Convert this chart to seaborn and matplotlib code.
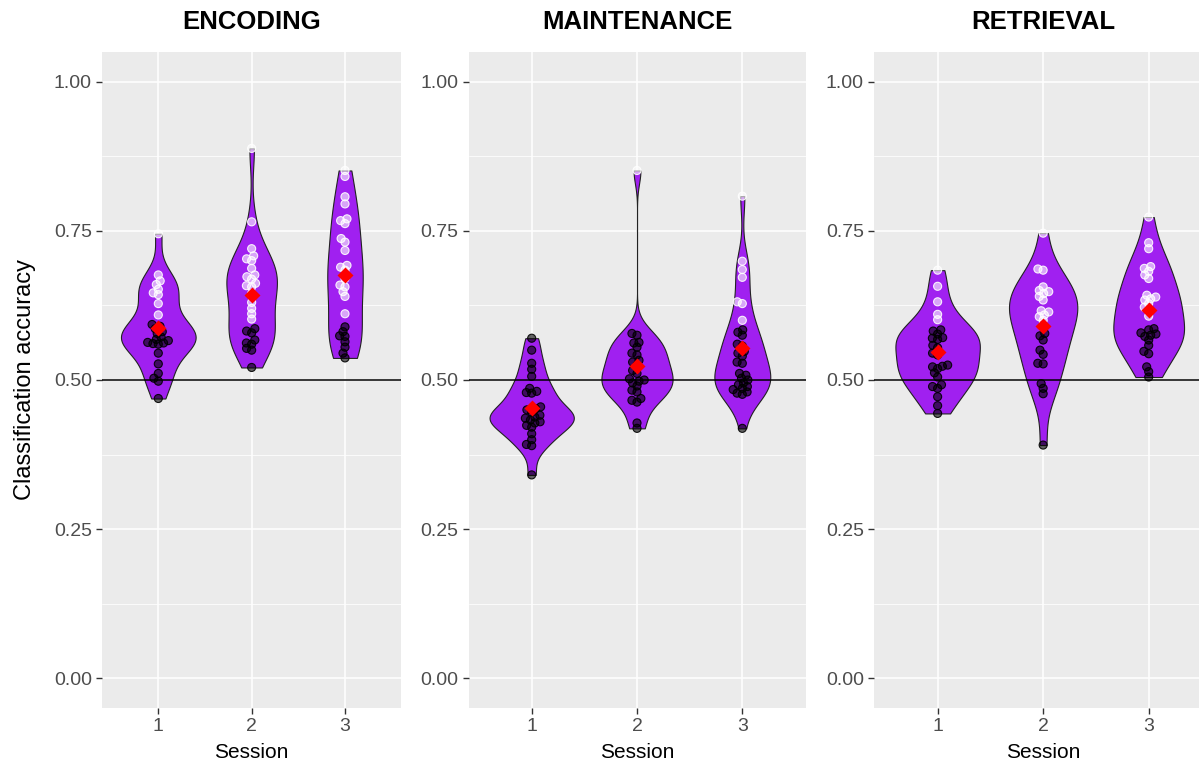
import numpy as np
import pandas as pd
import matplotlib
matplotlib.use("Agg")
import matplotlib.pyplot as plt
import seaborn as sns
from matplotlib.ticker import MultipleLocator, FixedLocator, FuncFormatter

# ---------------- data ----------------
phases = ["ENCODING", "MAINTENANCE", "RETRIEVAL"]
sessions = ["1", "2", "3"]

enc_s1 = [0.745, 0.676, 0.666, 0.660, 0.652, 0.646, 0.643, 0.628, 0.609, 0.593, 0.590,
          0.586, 0.581, 0.578, 0.572, 0.568, 0.566, 0.563, 0.562, 0.561, 0.560, 0.545,
          0.527, 0.511, 0.503, 0.498, 0.469]
enc_s2 = [0.888, 0.765, 0.720, 0.708, 0.703, 0.700, 0.687, 0.676, 0.673, 0.669, 0.662,
          0.658, 0.656, 0.645, 0.630, 0.620, 0.611, 0.602, 0.586, 0.582, 0.579, 0.567,
          0.562, 0.560, 0.553, 0.550, 0.521]
enc_s3 = [0.851, 0.841, 0.807, 0.795, 0.770, 0.767, 0.762, 0.737, 0.731, 0.717, 0.692,
          0.689, 0.684, 0.670, 0.659, 0.656, 0.648, 0.640, 0.611, 0.589, 0.581, 0.574,
          0.573, 0.564, 0.555, 0.545, 0.537]

mai_s1 = [0.570, 0.550, 0.528, 0.518, 0.506, 0.486, 0.481, 0.479, 0.478, 0.455, 0.452,
          0.450, 0.446, 0.441, 0.438, 0.436, 0.433, 0.430, 0.428, 0.424, 0.421, 0.410,
          0.400, 0.392, 0.390, 0.341]
mai_s2 = [0.851, 0.578, 0.575, 0.563, 0.562, 0.555, 0.545, 0.542, 0.533, 0.530, 0.525,
          0.516, 0.511, 0.502, 0.500, 0.498, 0.495, 0.490, 0.483, 0.480, 0.469, 0.466,
          0.463, 0.428, 0.419]
mai_s3 = [0.808, 0.699, 0.685, 0.672, 0.631, 0.628, 0.600, 0.584, 0.580, 0.575, 0.560,
          0.557, 0.548, 0.545, 0.540, 0.530, 0.528, 0.511, 0.508, 0.503, 0.500, 0.495,
          0.492, 0.489, 0.486, 0.484, 0.480, 0.478, 0.476, 0.419]

ret_s1 = [0.684, 0.657, 0.631, 0.610, 0.601, 0.584, 0.582, 0.577, 0.571, 0.570, 0.568,
          0.558, 0.554, 0.545, 0.542, 0.525, 0.523, 0.522, 0.519, 0.512, 0.505, 0.492,
          0.489, 0.486, 0.472, 0.457, 0.444]
ret_s2 = [0.746, 0.686, 0.684, 0.656, 0.650, 0.648, 0.645, 0.640, 0.634, 0.616, 0.614,
          0.609, 0.606, 0.600, 0.578, 0.574, 0.567, 0.550, 0.543, 0.528, 0.527, 0.494,
          0.486, 0.477, 0.391]
ret_s3 = [0.773, 0.730, 0.720, 0.690, 0.687, 0.682, 0.676, 0.670, 0.642, 0.639, 0.636,
          0.634, 0.628, 0.622, 0.617, 0.607, 0.586, 0.584, 0.579, 0.577, 0.575, 0.573,
          0.567, 0.558, 0.548, 0.544, 0.522, 0.514, 0.505]

data_by_phase = {
    "ENCODING": [enc_s1, enc_s2, enc_s3],
    "MAINTENANCE": [mai_s1, mai_s2, mai_s3],
    "RETRIEVAL": [ret_s1, ret_s2, ret_s3],
}
sig_threshold = 0.595
y_ticks = [0.0, 0.25, 0.5, 0.75, 1.0]

rows = []
for ph in phases:
    for s, vals in zip(sessions, data_by_phase[ph]):
        for v in vals:
            rows.append({"phase": ph, "session": s, "acc": v,
                         "sig": "above" if v >= sig_threshold else "below"})
df = pd.DataFrame(rows)

# ---------------- style ----------------
sns.set_theme(style="white")
plt.rcParams["font.family"] = ["Liberation Sans", "DejaVu Sans"]

PURPLE = "#A020F0"
LAYOUT_SIZE = 3.4   # marker size used to pack the swarm (dots overlap like a dotplot)
DOT_SIZE = 5.8      # marker size actually drawn


def nrd0(kde):
    d = np.asarray(kde.dataset).ravel()
    n = d.size
    sd = np.std(d, ddof=1)
    q75, q25 = np.percentile(d, [75, 25])
    lo = min(sd, (q75 - q25) / 1.34)
    return 0.9 * lo / sd * n ** (-0.2)


W, H = 1199, 768
fig = plt.figure(figsize=(W / 100, H / 100), dpi=100)

panel_px = [(102.3, 401.0), (468.5, 805.5), (874.3, 1212.0)]
top_px, bot_px = 51.7, 708.3

swarm_colls = []
for i, ph in enumerate(phases):
    l, r = panel_px[i]
    ax = fig.add_axes([l / W, (H - bot_px) / H, (r - l) / W, (bot_px - top_px) / H])
    ax.set_facecolor("#EBEBEB")
    sub = df[df["phase"] == ph]

    sns.violinplot(data=sub, x="session", y="acc", order=sessions, color=PURPLE,
                   saturation=1, linecolor="#222222", linewidth=0.8, inner=None,
                   cut=0, density_norm="area", bw_method=nrd0, width=0.8, ax=ax)

    ax.axhline(0.5, color="black", lw=1.1, zorder=2.5)

    n0 = len(ax.collections)
    sns.swarmplot(data=sub, x="session", y="acc", order=sessions, hue="sig",
                  hue_order=["below", "above"],
                  palette={"below": "black", "above": "white"},
                  size=LAYOUT_SIZE, linewidth=0.3, legend=False, ax=ax, zorder=3)
    for coll in ax.collections[n0:]:
        fc = np.array(coll.get_facecolors())
        if fc.size == 0:
            continue
        ec = fc.copy()
        ec[:, 3] = 0.9
        fc[:, 3] = 0.6
        coll.set_facecolors(fc)
        coll.set_edgecolors(ec)
        swarm_colls.append(coll)

    sns.pointplot(data=sub, x="session", y="acc", order=sessions, estimator="mean",
                  errorbar=None, color="red", marker="D", markersize=6,
                  linestyle="none", ax=ax, zorder=4)

    ax.set_xlim(-0.6, 2.6)
    ax.set_ylim(-0.05, 1.05)
    ax.yaxis.set_major_locator(FixedLocator(y_ticks))
    ax.yaxis.set_major_formatter(FuncFormatter(lambda v, p: f"{v:.2f}"))
    ax.yaxis.set_minor_locator(MultipleLocator(0.125))
    ax.grid(which="major", color="white", lw=1.1)
    ax.grid(which="minor", axis="y", color="white", lw=0.55)
    ax.set_axisbelow(True)
    for sp in ax.spines.values():
        sp.set_visible(False)
    ax.tick_params(axis="both", which="major", length=4, width=1, color="#333333",
                   labelcolor="#4D4D4D", labelsize=14)
    ax.tick_params(axis="y", pad=3.5, left=True)
    ax.tick_params(axis="x", pad=3, bottom=True)
    ax.tick_params(which="minor", length=0)

    ax.set_title(ph, fontsize=18.5, fontweight="bold", pad=16, color="black")
    ax.set_xlabel("Session", fontsize=15, color="black")
    ax.xaxis.set_label_coords(0.5, -0.068)
    ax.xaxis.label.set_verticalalignment("center")
    if i == 0:
        ax.set_ylabel("Classification accuracy", fontsize=17, color="black")
        ax.yaxis.set_label_coords(-0.258, 0.5)
        ax.yaxis.label.set_verticalalignment("center")
    else:
        ax.set_ylabel("")

# first draw computes the packed (overlapping) swarm positions
fig.canvas.draw()
for coll in swarm_colls:
    if "draw" in coll.__dict__:
        del coll.__dict__["draw"]
    coll.set_sizes([DOT_SIZE ** 2])
    coll.set_linewidth(0.8)

fig.savefig("out.png", dpi=100)
